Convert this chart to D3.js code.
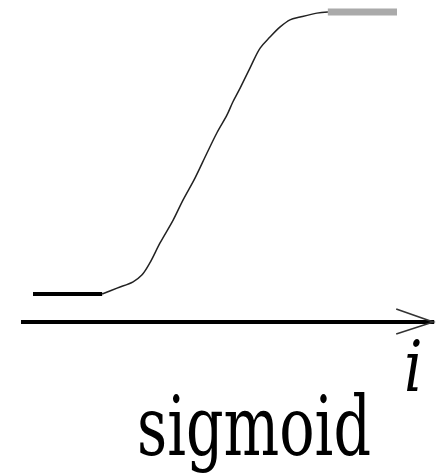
<!DOCTYPE html>
<html>
<head>
<meta charset="utf-8">
<script src="https://cdn.jsdelivr.net/npm/d3@7"></script>
<style>
  html, body { margin: 0; padding: 0; background: #fff; }
  svg { display: block; }
</style>
</head>
<body>
<svg width="436" height="473"></svg>
<script>
// sigmoid curve (x 0..10, y 0..1)
var flatX = [0, 1.90];
var flatY = [0, 0];
var curveX = [1.90, 2.31, 2.75, 2.99, 3.21, 3.49, 3.85, 4.12, 4.45, 4.78, 5.05, 5.33, 5.49, 5.69, 5.96, 6.24, 6.51, 6.79, 7.06, 7.34, 7.80, 8.10];
var curveY = [0, .021, .043, .067, .110, .181, .262, .333, .411, .500, .571, .635, .681, .730, .801, .872, .911, .947, .972, .982, .996, 1.0];
var topX = [8.10, 10];
var topY = [1.0, 1.0];
var axisX = [-0.33, 11.05];
var axisLabel = 'i';
var title = 'sigmoid';

var svg = d3.select('svg');
var xscale = d3.scaleLinear().domain([0, 10]).range([33, 397]);
var yscale = d3.scaleLinear().domain([0, 1]).range([294, 12]);
var axisY = 322;

var line = d3.line()
	.x(d => xscale(d[0]))
	.y(d => yscale(d[1]));

var zip = (xs, ys) => xs.map((x, i) => [x, ys[i]]);

// axis with open arrow head
var x0 = xscale(axisX[0]), x1 = xscale(axisX[1]);
svg.append('line')
	.attr('x1', x0).attr('x2', x1 - 1)
	.attr('y1', axisY).attr('y2', axisY)
	.attr('stroke', '#000').attr('stroke-width', 4);
svg.append('path')
	.attr('d', `M${x1 - 39},${axisY - 13}L${x1 - 2},${axisY}L${x1 - 39},${axisY + 12}`)
	.attr('fill', 'none').attr('stroke', '#333').attr('stroke-width', 1.6);

// flat low part
svg.append('path')
	.attr('d', line(zip(flatX, flatY)))
	.attr('fill', 'none').attr('stroke', '#000').attr('stroke-width', 4);

// saturated top part
svg.append('path')
	.attr('d', line(zip(topX, topY)))
	.attr('fill', 'none').attr('stroke', '#aaaaaa').attr('stroke-width', 7);

// rising part
svg.append('path')
	.attr('d', line.curve(d3.curveCatmullRom.alpha(0.5))(zip(curveX, curveY)))
	.attr('fill', 'none').attr('stroke', '#222').attr('stroke-width', 1.5);

// labels
svg.append('g').attr('transform', 'translate(404,391) scale(1,1.24)')
	.append('text')
	.style('font-family', "'DejaVu Serif'")
	.attr('font-style', 'italic')
	.attr('font-size', 58)
	.text(axisLabel);

svg.append('g').attr('transform', 'translate(137,455) scale(1,1.43)')
	.append('text')
	.style('font-family', "'DejaVu Serif'")
	.attr('font-size', 58)
	.attr('textLength', 234)
	.attr('lengthAdjust', 'spacingAndGlyphs')
	.text(title);
</script>
</body>
</html>
